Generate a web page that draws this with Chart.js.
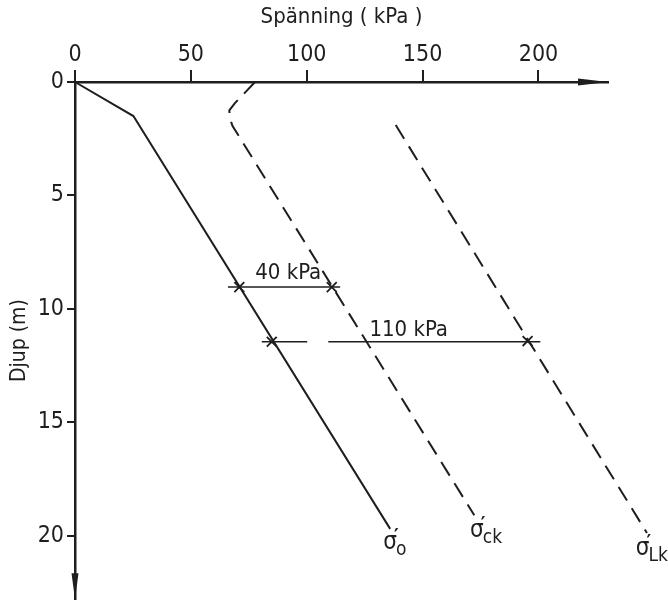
<!DOCTYPE html>
<html>
<head>
<meta charset="utf-8">
<script src="https://cdn.jsdelivr.net/npm/chart.js@4/dist/chart.umd.min.js"></script>
<style>
html,body{margin:0;padding:0;background:#fff;}
#wrap{width:668px;height:616px;}
</style>
</head>
<body>
<div id="wrap"><canvas id="c" width="668" height="616"></canvas></div>
<script>
// ---- data (stress in kPa, depth in m) ----
const stressO  = [0, 25.2, 136];
const depthO   = [0, 1.5, 19.7];
const stressCk = [77.7, 69, 66.6, 66.8, 68, 172.3];
const depthCk  = [0, 0.93, 1.25, 1.6, 1.94, 19.1];
const stressLk = [138.4, 246.8];
const depthLk  = [1.9, 19.88];
// difference markers
const diff40Stress  = [66, 114.4];
const diff40Depth   = [9.04, 9.04];
const cross40Stress = [70.9, 110.8];
const cross40Depth  = [9.04, 9.04];
const diff110Stress = [80.6, 100.2, null, 109.3, 200.8];
const diff110Depth  = [11.45, 11.45, null, 11.45, 11.45];
const cross110Stress = [84.9, 195.3];
const cross110Depth  = [11.45, 11.42];
const xTicks = [0, 50, 100, 150, 200];
const yTicks = [0, 5, 10, 15, 20];
const xTitle = 'Spänning ( kPa )';
const yTitle = 'Djup (m)';

const pts = (xs, ys) => xs.map((x, i) => ({x: x, y: ys[i]}));
const INK = '#1e1e1e';
const FONT = "'DejaVu Sans Condensed','Liberation Sans Narrow','Liberation Sans',sans-serif";

const labelPlugin = {
  id: 'extras',
  afterDraw(chart) {
    const ctx = chart.ctx, xs = chart.scales.x, ys = chart.scales.y, a = chart.chartArea;
    ctx.save();
    ctx.fillStyle = INK;
    // x arrow head
    ctx.beginPath();
    ctx.moveTo(a.right, a.top);
    ctx.lineTo(a.right - 30, a.top - 3.5);
    ctx.lineTo(a.right - 30, a.top + 3.5);
    ctx.closePath(); ctx.fill();
    // y arrow head
    ctx.beginPath();
    ctx.moveTo(a.left, a.bottom);
    ctx.lineTo(a.left - 3.5, a.bottom - 26);
    ctx.lineTo(a.left + 3.5, a.bottom - 26);
    ctx.closePath(); ctx.fill();
    // difference labels
    ctx.font = '22px ' + FONT;
    ctx.textAlign = 'center';
    ctx.textBaseline = 'alphabetic';
    ctx.fillText('40 kPa', xs.getPixelForValue(92), ys.getPixelForValue(9.04) - 8);
    ctx.fillText('110 kPa', xs.getPixelForValue(144), ys.getPixelForValue(11.45) - 6);
    // curve labels
    const sig = (v, d, sub) => {
      const px = xs.getPixelForValue(v), py = ys.getPixelForValue(d);
      ctx.textAlign = 'left';
      ctx.font = '24px ' + FONT;
      ctx.fillText('σ', px, py);
      const w = ctx.measureText('σ').width;
      ctx.font = 'bold 20px ' + FONT;
      ctx.fillText('′', px + w - 3, py - 7);
      ctx.font = '19px ' + FONT;
      ctx.fillText(sub, px + w - 1, py + 6);
    };
    sig(133, 20.6, 'o');
    sig(170.5, 20.05, 'ck');
    sig(242, 20.85, 'Lk');
    ctx.restore();
  }
};

new Chart(document.getElementById('c'), {
  type: 'scatter',
  data: {
    datasets: [
      {data: pts(stressO, depthO), showLine: true, borderColor: INK, borderWidth: 2, pointRadius: 0, clip: false},
      {data: pts(stressCk, depthCk), showLine: true, borderColor: INK, borderWidth: 2, pointRadius: 0, borderDash: [16, 9], clip: false},
      {data: pts(stressLk, depthLk), showLine: true, borderColor: INK, borderWidth: 2, pointRadius: 0, borderDash: [16, 9], clip: false},
      {data: pts(diff40Stress, diff40Depth), showLine: true, borderColor: INK, borderWidth: 1.5, pointRadius: 0},
      {data: pts(diff110Stress, diff110Depth), showLine: true, spanGaps: false, borderColor: INK, borderWidth: 1.5, pointRadius: 0},
      {data: pts(cross40Stress, cross40Depth), showLine: false, pointStyle: 'crossRot', pointRadius: 7, borderColor: INK, borderWidth: 1.8},
      {data: pts(cross110Stress, cross110Depth), showLine: false, pointStyle: 'crossRot', pointRadius: 7, borderColor: INK, borderWidth: 1.8}
    ]
  },
  options: {
    responsive: false,
    animation: false,
    layout: {padding: {left: 0, top: 0, right: 60, bottom: 4}},
    plugins: {legend: {display: false}, tooltip: {enabled: false}},
    scales: {
      x: {
        type: 'linear', position: 'top', min: 0, max: 230,
        afterFit(s) { s.height = 82; },
        afterBuildTicks(s) { s.ticks = xTicks.map(v => ({value: v})); },
        grid: {drawOnChartArea: false, drawTicks: true, tickLength: 12, color: INK, lineWidth: 2},
        border: {display: true, color: INK, width: 2.5},
        ticks: {color: INK, font: {family: FONT, size: 23}, padding: 1, maxRotation: 0},
        title: {display: true, text: xTitle, color: INK, font: {family: FONT, size: 22}, padding: {top: 4, bottom: 0}}
      },
      y: {
        type: 'linear', reverse: true, min: 0, max: 22.8,
        afterFit(s) { s.width = 75; },
        afterBuildTicks(s) { s.ticks = yTicks.map(v => ({value: v})); },
        grid: {drawOnChartArea: false, drawTicks: true, tickLength: 8, color: INK, lineWidth: 2},
        border: {display: true, color: INK, width: 2.5},
        ticks: {color: INK, font: {family: FONT, size: 23}, padding: 3},
        title: {display: true, text: yTitle, color: INK, font: {family: FONT, size: 21}, padding: {top: 7, bottom: 0}}
      }
    }
  },
  plugins: [labelPlugin]
});
</script>
</body>
</html>
